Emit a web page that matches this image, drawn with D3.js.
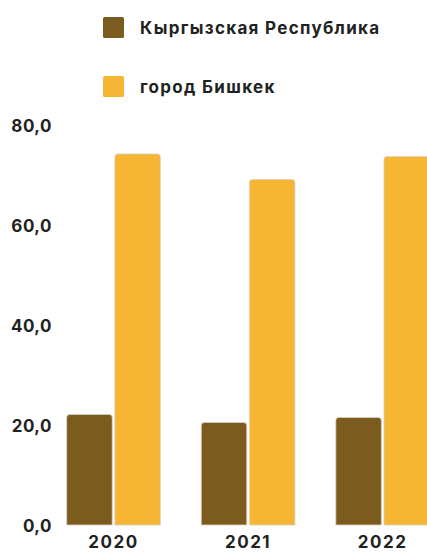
<!DOCTYPE html>
<html><head><meta charset="utf-8">
<script src="https://cdn.jsdelivr.net/npm/d3@7"></script>
<style>
html,body{margin:0;padding:0;background:#fff;overflow:hidden}
text{font-family:Inter,"Noto Sans",sans-serif;font-weight:700;fill:#1f231f}
</style></head>
<body>
<svg id="c" width="427" height="552"></svg>
<script>
const years = ["2020", "2021", "2022"];
const seriesNames = ["Кыргызская Республика", "город Бишкек"];
const kyrgyzValues = [22.1, 20.5, 21.5];
const bishkekValues = [74.2, 69.1, 73.7];
const yTicks = [0, 20, 40, 60, 80];
const colors = ["#7c5b1e", "#f6b532"];

const svg = d3.select("#c");
const y = d3.scaleLinear().domain([0, 80]).range([525, 125]);
const x0 = d3.scaleBand().domain(years).range([66.7, 429.5]).paddingInner(0.304).paddingOuter(0);
const x1 = d3.scaleBand().domain(seriesNames).range([0, x0.bandwidth()]).paddingInner(0.055);

const seriesVals = [kyrgyzValues, bishkekValues];

// y axis labels
const yAxis = d3.axisLeft(y).tickValues(yTicks).tickSize(0).tickPadding(0)
  .tickFormat(d => d3.format(".1f")(d).replace(".", ","));
const ga = svg.append("g").attr("transform", "translate(52,0)").call(yAxis);
ga.select(".domain").remove();
ga.selectAll("text").attr("font-size", 17).attr("font-family", "Inter, 'Noto Sans', sans-serif")
  .attr("font-weight", 700).attr("fill", "#1f231f").attr("letter-spacing", 0.5).attr("dy", "0.36em");

// bars with rounded top corners
function barPath(x, yTop, w, h, r) {
  const b = yTop + h;
  return `M${x},${b}V${yTop + r}Q${x},${yTop} ${x + r},${yTop}H${x + w - r}Q${x + w},${yTop} ${x + w},${yTop + r}V${b}Z`;
}
seriesNames.forEach((s, si) => {
  svg.append("g").selectAll("path").data(years).join("path")
    .attr("d", (d, i) => {
      const v = seriesVals[si][i];
      return barPath(x0(d) + x1(s), y(v), x1.bandwidth(), y(0) - y(v), 3);
    })
    .attr("fill", colors[si])
    .attr("stroke", "#d9d2c4").attr("stroke-width", 0.8);
});

// x axis labels
const xAxis = d3.axisBottom(x0).tickSize(0).tickPadding(0);
const gx = svg.append("g").attr("transform", "translate(0,534)").call(xAxis);
gx.select(".domain").remove();
gx.selectAll("text").attr("font-size", 17).attr("font-family", "Inter, 'Noto Sans', sans-serif")
  .attr("font-weight", 700).attr("fill", "#1f231f").attr("letter-spacing", 1.5).attr("dy", "0.82em");

// legend
const leg = svg.append("g");
seriesNames.forEach((s, i) => {
  const cy = 28 + i * 59;
  leg.append("rect").attr("x", 103).attr("y", cy - 11).attr("width", 21).attr("height", 21)
    .attr("rx", 1.5).attr("fill", colors[i]);
  leg.append("text").attr("x", 140).attr("y", cy).attr("dy", "0.35em")
    .attr("font-size", 17).attr("letter-spacing", 1.3).text(s);
});
</script>
</body></html>
